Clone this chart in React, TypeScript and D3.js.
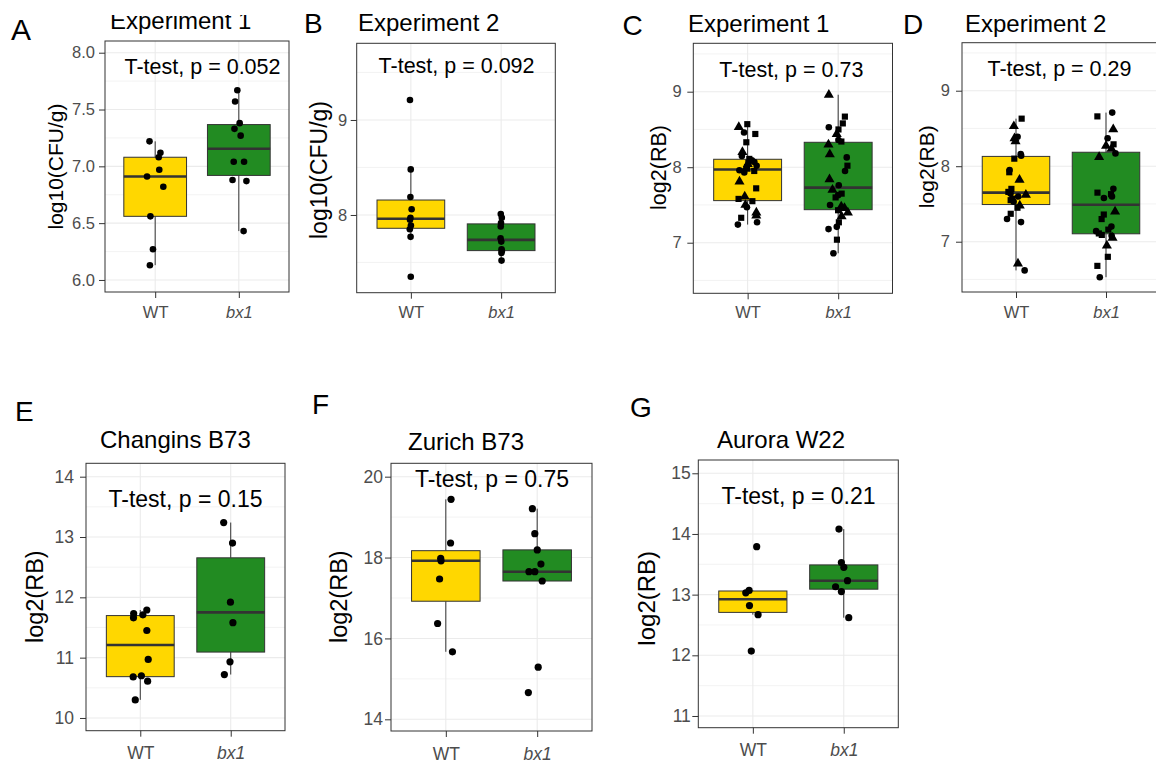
import React, { useEffect, useRef } from 'react';
import * as d3 from 'd3';

const FONT = '"Liberation Sans", Arial, sans-serif';

const groups = ['WT', 'bx1'];
const letters = ['A', 'B', 'C', 'D', 'E', 'F', 'G'];
const titles = ['Experiment 1', 'Experiment 2', 'Experiment 1', 'Experiment 2', 'Changins B73', 'Zurich B73', 'Aurora W22'];
const yTitles = ['log10(CFU/g)', 'log10(CFU/g)', 'log2(RB)', 'log2(RB)', 'log2(RB)', 'log2(RB)', 'log2(RB)'];
const pValues = ['0.052', '0.092', '0.73', '0.29', '0.15', '0.75', '0.21'];
const pLabelX = [1.566, 1.506, 1.483, 1.483, 1.5, 1.505, 1.502];
const pLabelY = [7.81, 9.49, 9.19, 9.195, 13.49, 19.74, 14.49];
const yTickValues = [
  [6, 6.5, 7, 7.5, 8],
  [8, 9],
  [7, 8, 9],
  [7, 8, 9],
  [10, 11, 12, 13, 14],
  [14, 16, 18, 20],
  [11, 12, 13, 14, 15],
];
const yTickFormats = ['.1f', 'd', 'd', 'd', 'd', 'd', 'd'];

// A - Experiment 1, log10(CFU/g)
const aWT = [7.22, 7.12, 7.08, 6.97, 6.91, 6.82, 6.56, 6.27, 6.13];
const aBX1 = [7.67, 7.57, 7.38, 7.33, 7.27, 7.04, 7.04, 6.88, 6.87, 6.43];
// B - Experiment 2, log10(CFU/g)
const bWT = [9.21, 8.48, 8.19, 8.06, 7.97, 7.95, 7.89, 7.85, 7.77, 7.35];
const bBX1 = [8.01, 7.97, 7.915, 7.88, 7.755, 7.72, 7.64, 7.62, 7.6, 7.52];
// C - Experiment 1, log2(RB)
const cWT = [7.24, 7.27, 7.33, 7.36, 7.4, 7.47, 7.5, 7.55, 7.58, 7.61, 7.72, 7.81, 7.93, 7.95, 7.96,
  7.98, 8.0, 8.02, 8.04, 8.06, 8.07, 8.09, 8.11, 8.15, 8.2, 8.33, 8.44, 8.46, 8.53, 8.57];
const cWTShape = ['c', 'c', 's', 't', 't', 'c', 't', 's', 's', 't', 's', 't', 'c', 's', 'c',
  't', 's', 'c', 't', 's', 'c', 'c', 's', 'c', 't', 's', 's', 'c', 't', 's'];
const cBX1 = [6.86, 7.04, 7.18, 7.21, 7.27, 7.35, 7.4, 7.43, 7.46, 7.48, 7.5, 7.6, 7.63, 7.65, 7.7,
  7.76, 7.84, 7.95, 8.02, 8.13, 8.17, 8.3, 8.34, 8.36, 8.44, 8.5, 8.53, 8.58, 8.67, 8.96];
const cBX1Shape = ['c', 's', 'c', 'c', 's', 't', 't', 's', 't', 't', 'c', 's', 'c', 's', 't',
  'c', 't', 'c', 's', 'c', 't', 't', 's', 'c', 't', 's', 'c', 's', 's', 't'];
// D - Experiment 2, log2(RB)
const dWT = [6.62, 6.71, 7.26, 7.3, 7.37, 7.45, 7.48, 7.53, 7.55, 7.57, 7.6, 7.62, 7.64, 7.66, 7.7,
  7.82, 7.92, 7.95, 8.1, 8.14, 8.16, 8.33, 8.37, 8.39, 8.53, 8.63];
const dWTShape = ['c', 't', 'c', 'c', 's', 's', 't', 'c', 's', 's', 'c', 't', 'c', 's', 's',
  't', 's', 'c', 's', 'c', 'c', 't', 't', 'c', 't', 's'];
const dBX1 = [6.53, 6.68, 6.8, 6.95, 7.05, 7.08, 7.09, 7.11, 7.14, 7.16, 7.2, 7.3, 7.36, 7.4, 7.58,
  7.6, 7.63, 7.65, 7.7, 8.12, 8.17, 8.23, 8.27, 8.29, 8.37, 8.49, 8.66, 8.71];
const dBX1Shape = ['c', 's', 's', 't', 't', 'c', 's', 's', 'c', 's', 'c', 's', 's', 't', 'c',
  'c', 's', 's', 'c', 't', 'c', 't', 't', 's', 'c', 't', 's', 'c'];
// E - Changins B73
const eWT = [11.79, 11.73, 11.71, 11.66, 11.45, 10.97, 10.7, 10.68, 10.61, 10.3];
const eBX1 = [13.24, 12.9, 11.92, 11.58, 10.93, 10.72];
// F - Zurich B73
const fWT = [19.44, 18.36, 17.98, 17.92, 17.47, 16.37, 15.67];
const fBX1 = [19.21, 18.59, 18.19, 17.84, 17.65, 17.65, 17.42, 15.29, 14.66];
// G - Aurora W22
const gWT = [13.79, 13.07, 13.03, 12.82, 12.67, 12.07];
const gBX1 = [14.08, 13.53, 13.45, 13.23, 13.13, 13.05, 12.62];

const series = [[aWT, aBX1], [bWT, bBX1], [cWT, cBX1], [dWT, dBX1], [eWT, eBX1], [fWT, fBX1], [gWT, gBX1]];
const shapes = [null, null, [cWTShape, cBX1Shape], [dWTShape, dBX1Shape], null, null, null];
const fills = ['#FFD700', '#228B22'];

const layout = [
  { left: 105, right: 289, top: 41, bottom: 292, dom: [5.894, 8.103], yPad: 4, xPad: 8.3, tick: 16.5, axT: 21, pF: 21.5, lF: 30, lX: 11, lY: 39.5, tX: 110, tY: 28.5, clipTop: 15, ytX: 62.5, ytY: 166.5, r: 3.3, jit: 0.1 },
  { left: 356.7, right: 555.3, top: 43.3, bottom: 292.7, dom: [7.182, 9.807], yPad: 3.5, xPad: 7.9, tick: 16.5, axT: 23, pF: 21.5, lF: 28, lX: 304, lY: 32.5, tX: 358, tY: 30.5, ytX: 327, ytY: 170, r: 3.3, jit: 0.012 },
  { left: 693.3, right: 892.5, top: 43.3, bottom: 293.3, dom: [6.33, 9.641], yPad: 5.5, xPad: 7.3, tick: 16.5, axT: 21.5, pF: 21.5, lF: 28, lX: 622.5, lY: 34.5, tX: 688, tY: 32.3, ytX: 665.5, ytY: 167.5, r: 3.2, jit: 0.11 },
  { left: 962, right: 1160, top: 42.7, bottom: 292, dom: [6.334, 9.636], yPad: 6, xPad: 8.6, tick: 16.5, axT: 21, pF: 21.5, lF: 28, lX: 903, lY: 33.5, tX: 965, tY: 32.3, ytX: 933.5, ytY: 166.7, r: 3.2, jit: 0.11 },
  { left: 86, right: 285, top: 463.3, bottom: 730.7, dom: [9.789, 14.222], yPad: 6, xPad: 9.9, tick: 17.5, axT: 23.5, pF: 23, lF: 28, lX: 15, lY: 421, tX: 100, tY: 448.3, ytX: 43, ytY: 596.7, r: 3.6, jit: 0.1 },
  { left: 391, right: 592, top: 463.3, bottom: 731, dom: [13.711, 20.331], yPad: 2, xPad: 10.6, tick: 17.5, axT: 23.5, pF: 23, lF: 28, lX: 312, lY: 413.5, tX: 408, tY: 450, ytX: 347, ytY: 596.7, r: 3.6, jit: 0.1 },
  { left: 698.3, right: 898.3, top: 460, bottom: 727.7, dom: [10.807, 15.219], yPad: 1.5, xPad: 9.9, tick: 17.5, axT: 24, pF: 23, lF: 28, lX: 630, lY: 416.5, tX: 717, tY: 448.3, ytX: 655, ytY: 598.3, r: 3.6, jit: 0.1 },
];

function boxStats(values) {
  const s = [...values].sort(d3.ascending);
  const q1 = d3.quantile(s, 0.25);
  const med = d3.quantile(s, 0.5);
  const q3 = d3.quantile(s, 0.75);
  const iqr = q3 - q1;
  const lo = d3.min(s.filter(v => v >= q1 - 1.5 * iqr));
  const hi = d3.max(s.filter(v => v <= q3 + 1.5 * iqr));
  return { q1, med, q3, lo, hi };
}

function symbolFor(code) {
  if (code === 't') return d3.symbol().type(d3.symbolTriangle).size(44)();
  if (code === 's') return d3.symbol().type(d3.symbolSquare).size(38)();
  return d3.symbol().type(d3.symbolCircle).size(34)();
}

function drawPanel(svg, i) {
  const L = layout[i];
  const x = d3.scaleLinear().domain([0.4, 2.6]).range([L.left, L.right]);
  const y = d3.scaleLinear().domain(L.dom).range([L.bottom, L.top]);
  const g = svg.append('g');
  const w = L.right - L.left;
  const h = L.bottom - L.top;

  g.append('rect').attr('x', L.left).attr('y', L.top).attr('width', w).attr('height', h).attr('fill', '#fff');

  const ticks = yTickValues[i];
  const step = ticks[1] - ticks[0];
  const minor = d3.range(ticks[0] - step / 2, L.dom[1], step).filter(v => v > L.dom[0] && v < L.dom[1]);

  g.append('g').selectAll('line').data(minor).join('line')
    .attr('x1', L.left).attr('x2', L.right)
    .attr('y1', d => y(d)).attr('y2', d => y(d))
    .attr('stroke', '#F0F0F0').attr('stroke-width', 0.8);
  g.append('g').selectAll('line').data(ticks).join('line')
    .attr('x1', L.left).attr('x2', L.right)
    .attr('y1', d => y(d)).attr('y2', d => y(d))
    .attr('stroke', '#EBEBEB').attr('stroke-width', 1.1);
  g.append('g').selectAll('line').data([1, 2]).join('line')
    .attr('x1', d => x(d)).attr('x2', d => x(d))
    .attr('y1', L.top).attr('y2', L.bottom)
    .attr('stroke', '#EBEBEB').attr('stroke-width', 1.1);

  // boxplots
  series[i].forEach((vals, k) => {
    const s = boxStats(vals);
    const cx = x(k + 1);
    const bg = g.append('g');
    bg.append('line').attr('x1', cx).attr('x2', cx).attr('y1', y(s.q3)).attr('y2', y(s.hi))
      .attr('stroke', '#333').attr('stroke-width', 1);
    bg.append('line').attr('x1', cx).attr('x2', cx).attr('y1', y(s.q1)).attr('y2', y(s.lo))
      .attr('stroke', '#333').attr('stroke-width', 1);
    bg.append('rect')
      .attr('x', x(k + 1 - 0.375)).attr('width', x(k + 1 + 0.375) - x(k + 1 - 0.375))
      .attr('y', y(s.q3)).attr('height', y(s.q1) - y(s.q3))
      .attr('fill', fills[k]).attr('stroke', '#333').attr('stroke-width', 1);
    bg.append('line')
      .attr('x1', x(k + 1 - 0.375)).attr('x2', x(k + 1 + 0.375))
      .attr('y1', y(s.med)).attr('y2', y(s.med))
      .attr('stroke', '#333').attr('stroke-width', 2.6);
  });

  // jittered points
  series[i].forEach((vals, k) => {
    const rng = d3.randomLcg(0.137 * (i + 1) + 0.29 * k);
    const offs = vals.map(() => (rng() * 2 - 1) * L.jit);
    const shp = shapes[i] ? shapes[i][k] : null;
    const pg = g.append('g');
    vals.forEach((v, j) => {
      const px = x(k + 1 + offs[j]);
      const py = y(v);
      if (shp) {
        pg.append('path').attr('d', symbolFor(shp[j])).attr('transform', `translate(${px},${py})`).attr('fill', '#000');
      } else {
        pg.append('circle').attr('cx', px).attr('cy', py).attr('r', L.r).attr('fill', '#000');
      }
    });
  });

  g.append('rect').attr('x', L.left).attr('y', L.top).attr('width', w).attr('height', h)
    .attr('fill', 'none').attr('stroke', '#333').attr('stroke-width', 1);

  // axes
  const ya = g.append('g').attr('transform', `translate(${L.left},0)`)
    .call(d3.axisLeft(y).tickValues(ticks).tickSize(6).tickPadding(L.yPad).tickFormat(d3.format(yTickFormats[i])));
  ya.select('.domain').remove();
  ya.attr('font-family', FONT).attr('font-size', L.tick);
  ya.selectAll('line').attr('stroke', '#333');
  ya.selectAll('text').attr('fill', '#4D4D4D');

  const xa = g.append('g').attr('transform', `translate(0,${L.bottom})`)
    .call(d3.axisBottom(x).tickValues([1, 2]).tickSize(6).tickPadding(L.xPad).tickFormat(d => groups[d - 1]));
  xa.select('.domain').remove();
  xa.attr('font-family', FONT).attr('font-size', L.tick);
  xa.selectAll('line').attr('stroke', '#333');
  xa.selectAll('text').attr('fill', '#4D4D4D').attr('font-style', d => (d === 2 ? 'italic' : 'normal'));

  // p-value label
  g.append('text').attr('x', x(pLabelX[i])).attr('y', y(pLabelY[i]))
    .attr('text-anchor', 'middle').attr('font-family', FONT).attr('font-size', L.pF).attr('fill', '#000')
    .text(`T-test, p = ${pValues[i]}`);

  // y title
  g.append('text').attr('transform', `translate(${L.ytX},${L.ytY}) rotate(-90)`)
    .attr('text-anchor', 'middle').attr('font-family', FONT).attr('font-size', L.axT).attr('fill', '#000')
    .text(yTitles[i]);

  // panel title
  const title = g.append('text').attr('x', L.tX).attr('y', L.tY)
    .attr('font-family', FONT).attr('font-size', 24).attr('fill', '#000').text(titles[i]);
  if (L.clipTop) {
    const id = `title-clip-${i}`;
    g.append('clipPath').attr('id', id).append('rect')
      .attr('x', 0).attr('y', L.clipTop).attr('width', 400).attr('height', 100);
    title.attr('clip-path', `url(#${id})`);
  }

  // panel letter
  g.append('text').attr('x', L.lX).attr('y', L.lY)
    .attr('font-family', FONT).attr('font-size', L.lF).attr('fill', '#000').text(letters[i]);
}

export default function App() {
  const svgRef = useRef(null);

  useEffect(() => {
    const svg = d3.select(svgRef.current);
    svg.selectAll('*').remove();
    layout.forEach((_, i) => drawPanel(svg, i));
  }, []);

  return (
    <svg ref={svgRef} width={1156} height={764}
      style={{ position: 'absolute', left: 0, top: 0, background: '#fff' }}></svg>
  );
}
